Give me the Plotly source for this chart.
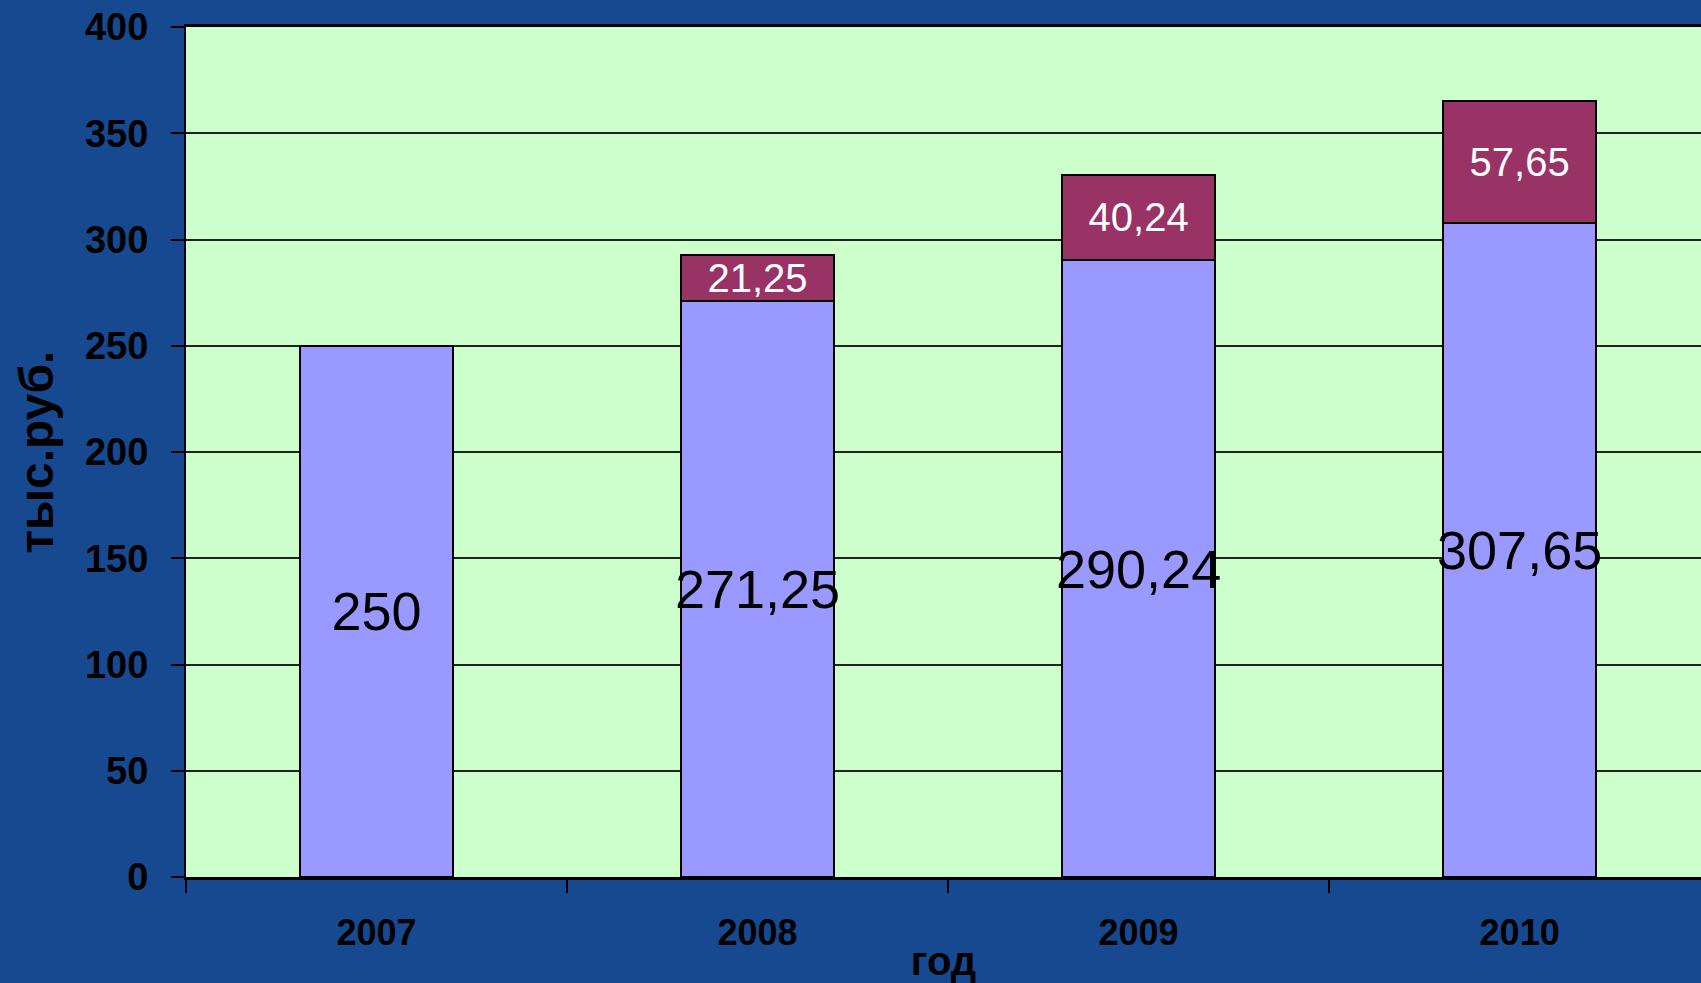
import plotly.graph_objects as go

years = ["2007", "2008", "2009", "2010"]
base_values = [250, 271.25, 290.24, 307.65]
increase_values = [0, 21.25, 40.24, 57.65]
y_ticks = [0, 50, 100, 150, 200, 250, 300, 350, 400]


def fmt(v):
    return f"{v:g}".replace(".", ",")


base_text = [fmt(v) for v in base_values]
inc_text = [fmt(v) if v else "" for v in increase_values]

FONT = "Liberation Sans, Arial, sans-serif"

fig = go.Figure()
fig.add_trace(go.Bar(
    x=years, y=base_values, width=0.4,
    marker=dict(color="#9999FF", line=dict(color="black", width=2)),
    text=base_text, textposition="inside", insidetextanchor="middle",
    constraintext="none", textangle=0,
    textfont=dict(family=FONT, size=54, color="black"),
    showlegend=False,
))
fig.add_trace(go.Bar(
    x=years, y=increase_values, width=0.4,
    marker=dict(color="#993366", line=dict(color="black", width=2)),
    text=inc_text, textposition="inside", insidetextanchor="middle",
    constraintext="none", textangle=0,
    textfont=dict(family=FONT, size=40, color="white"),
    showlegend=False,
))

fig.update_layout(
    barmode="stack",
    width=1701, height=983,
    margin=dict(l=186, r=0, t=27, b=106),
    paper_bgcolor="#164990",
    plot_bgcolor="#CCFFCC",
    font=dict(family=FONT, color="black"),
    xaxis=dict(
        type="category",
        range=[-0.5, 3.476],
        showline=True, linecolor="black", linewidth=3, mirror=True,
        ticks="outside", tickson="boundaries", ticklen=13, tickwidth=1.5, tickcolor="black",
        tickfont=dict(family=FONT, size=36, color="black", weight="bold"),
        ticklabelstandoff=22,
        showgrid=False,
        title=dict(text="год", font=dict(family=FONT, size=40, color="black", weight="bold"), standoff=2),
    ),
    yaxis=dict(
        range=[0, 400], tickvals=y_ticks,
        showline=True, linecolor="black", linewidth=2,
        ticks="outside", ticklen=13, tickwidth=1.5, tickcolor="black",
        tickfont=dict(family=FONT, size=38, color="black", weight="bold"),
        ticklabelstandoff=15,
        showgrid=True, gridcolor="#222222", gridwidth=1.5,
        zeroline=False,
        title=dict(text="тыс.руб.", font=dict(family=FONT, size=48, color="black", weight="bold"), standoff=16),
    ),
)

fig.write_html("out.html", config={"displayModeBar": False},
               post_script="document.body.style.margin='0';document.body.style.overflow='hidden';")
